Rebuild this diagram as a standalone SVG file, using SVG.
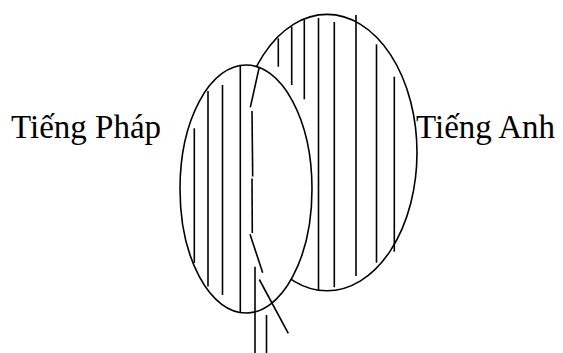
<svg xmlns="http://www.w3.org/2000/svg" width="563" height="353" viewBox="0 0 563 353">
<style>
.s{stroke:#000;stroke-width:1.6;fill:none;stroke-linecap:butt}
.e{stroke:#000;stroke-width:1.6}
.t{font-family:"Liberation Serif","Times New Roman",serif;font-size:33px;fill:#000}
</style>
<rect width="563" height="353" fill="#fff"/>
<g id="tieng-anh">
<ellipse class="e" cx="327" cy="152.6" rx="90" ry="138.2" fill="#fff"/>
<line class="s" x1="278.3" y1="38.3" x2="278.3" y2="66.7"/>
<line class="s" x1="291.7" y1="26.7" x2="291.7" y2="85"/>
<line class="s" x1="304.3" y1="20" x2="304.3" y2="99.3"/>
<line class="s" x1="318.5" y1="18" x2="318.5" y2="290"/>
<line class="s" x1="334.3" y1="22" x2="334.3" y2="287.3"/>
<line class="s" x1="356" y1="15" x2="356" y2="276"/>
<line class="s" x1="376.5" y1="44.3" x2="376.5" y2="262.7"/>
<line class="s" x1="394.3" y1="76.7" x2="394.3" y2="251.7"/>
<text class="t" x="416" y="138">Tiếng Anh</text>
</g>
<g id="tieng-phap">
<ellipse class="e" cx="246" cy="189" rx="66" ry="124" fill="#fff"/>
<line class="s" x1="194.3" y1="128.3" x2="194.3" y2="263"/>
<line class="s" x1="208" y1="91" x2="208" y2="286.5"/>
<line class="s" x1="222.5" y1="85" x2="222.5" y2="295"/>
<line class="s" x1="240.3" y1="66" x2="240.3" y2="312.5"/>
<text class="t" x="11" y="138">Tiếng Pháp</text>
</g>
<g id="connectors">
<line class="s" x1="259.3" y1="67" x2="250.3" y2="107.3"/>
<line class="s" x1="252" y1="111" x2="252.7" y2="176.5"/>
<line class="s" x1="252" y1="178.5" x2="252.3" y2="233"/>
<line class="s" x1="250" y1="234.3" x2="262.7" y2="272.7"/>
<line class="s" x1="259.3" y1="279.5" x2="288.3" y2="333.3"/>
<line class="s" x1="255" y1="266.7" x2="255" y2="353"/>
<line class="s" x1="266.5" y1="315" x2="266.5" y2="353"/>
</g>
</svg>
